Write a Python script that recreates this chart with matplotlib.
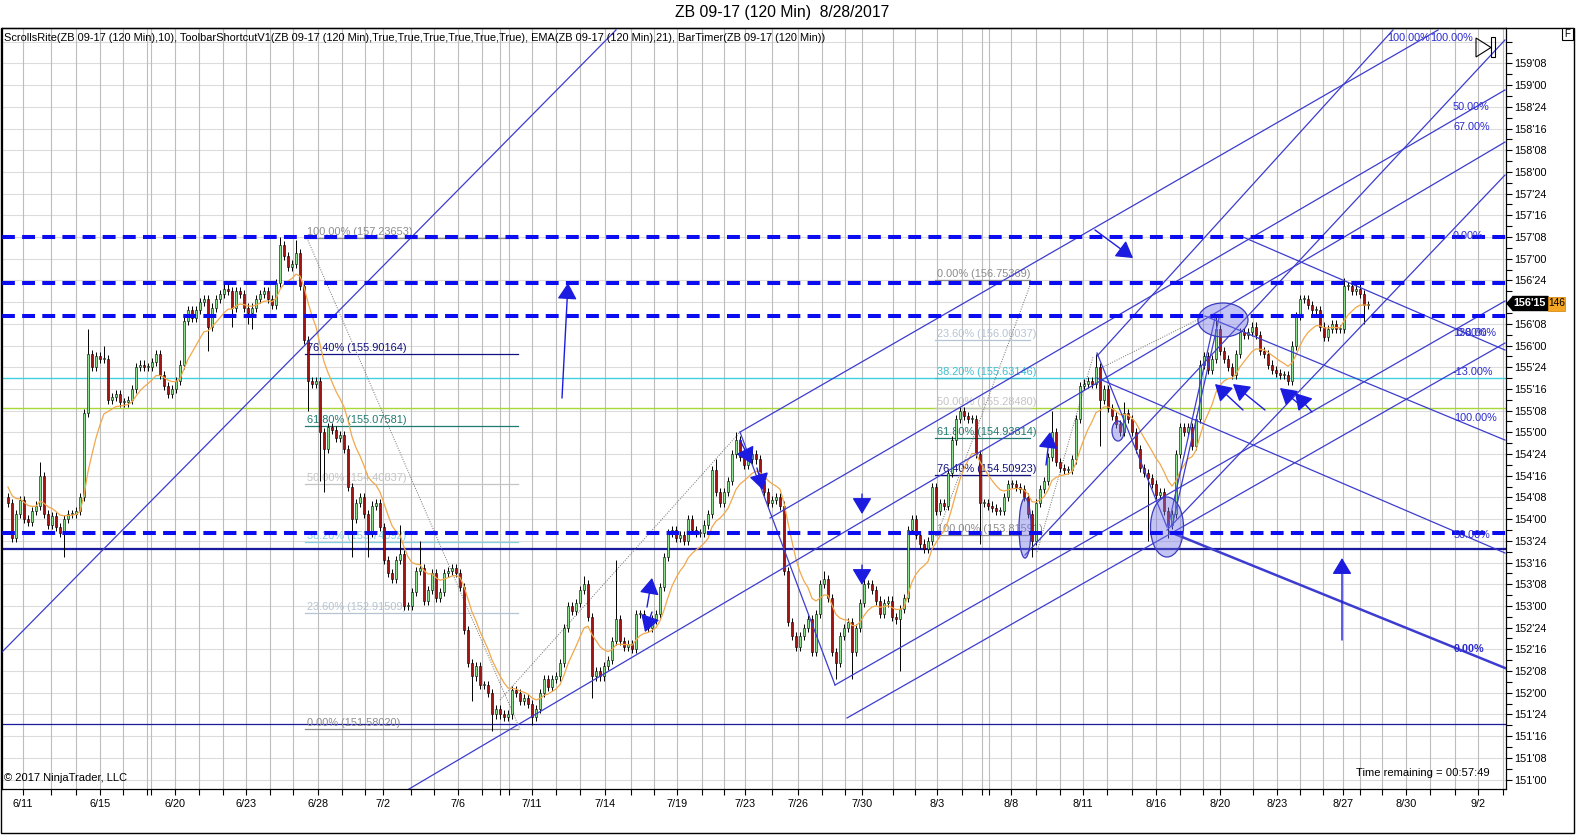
import numpy as np
import matplotlib
matplotlib.use("Agg")
import matplotlib.pyplot as plt
from matplotlib.patches import Ellipse, Rectangle, Polygon
from matplotlib.ticker import FixedLocator, FuncFormatter

plt.rcParams['font.family'] = ['Liberation Sans', 'DejaVu Sans']

# ---------------- texts ----------------
TITLE = "ZB 09-17 (120 Min)  8/28/2017"
INDICATORS = ("ScrollsRite(ZB 09-17 (120 Min),10), ToolbarShortcutV1(ZB 09-17 (120 Min),"
              "True,True,True,True,True,True), EMA(ZB 09-17 (120 Min),21), BarTimer(ZB 09-17 (120 Min))")
COPYRIGHT = "\u00a9 2017 NinjaTrader, LLC"
TIMER = "Time remaining = 00:57:49"
last_price_label = "156'15"
last_volume_label = "146"

# ---------------- price data (closes in 32nds above 150'00) ----------------
close_32 = [
    134, 121, 130, 135, 128, 127, 131, 133, 144, 130, 126, 129, 125, 123, 128, 130, 130, 131, 136, 167,
    189, 184, 188, 187, 187, 172, 173, 174, 171, 171, 172, 176, 184, 185, 184, 184, 186, 189, 181, 177,
    174, 176, 179, 185, 201, 205, 202, 205, 208, 209, 199, 206, 209, 211, 213, 212, 206, 212, 211, 206,
    204, 206, 209, 211, 212, 209, 207, 215, 229, 225, 221, 222, 226, 214, 194, 179, 178, 179, 160, 154,
    162, 161, 158, 159, 154, 140, 128, 134, 136, 130, 123, 133, 134, 125, 113, 108, 106, 113, 115, 96,
    96, 101, 109, 110, 98, 102, 108, 99, 101, 108, 109, 110, 108, 103, 87, 75, 70, 74, 67, 67,
    64, 56, 58, 56, 55, 56, 65, 64, 61, 62, 60, 55, 58, 64, 69, 66, 69, 70, 75, 88,
    96, 94, 97, 102, 104, 92, 70, 72, 70, 74, 76, 83, 91, 83, 81, 82, 80, 93, 93, 90,
    88, 91, 93, 103, 114, 123, 124, 121, 122, 120, 128, 124, 123, 123, 126, 130, 146, 138, 134, 138,
    142, 152, 157, 151, 148, 150, 152, 150, 142, 138, 134, 135, 136, 133, 109, 90, 85, 81, 85, 88,
    91, 79, 93, 104, 106, 99, 79, 75, 85, 88, 90, 79, 88, 97, 104, 104, 102, 98, 93, 97,
    98, 92, 91, 95, 99, 124, 128, 122, 119, 117, 120, 140, 131, 134, 133, 145, 157, 165, 168, 166,
    165, 165, 152, 134, 134, 133, 132, 131, 131, 136, 141, 141, 140, 139, 136, 130, 120, 134, 139, 142,
    151, 160, 149, 147, 146, 146, 150, 165, 177, 178, 179, 178, 184, 172, 176, 169, 166, 163, 160, 167,
    165, 160, 154, 147, 145, 143, 141, 137, 138, 131, 126, 130, 152, 162, 160, 162, 155, 165, 185, 188,
    183, 187, 198, 190, 187, 184, 181, 189, 197, 196, 197, 199, 196, 190, 189, 185, 183, 182, 181, 181,
    179, 192, 203, 209, 209, 207, 205, 205, 199, 195, 198, 200, 198, 198, 214, 214, 212, 213, 211, 207,
    207,
]
first_open_32 = 136
wick_32 = 1.5
high_spikes_32 = {8: 149, 20: 198, 24: 192, 68: 232, 72: 231, 98: 126, 103: 120, 144: 107,
                  152: 113, 177: 150, 182: 160, 204: 109, 214: 107, 261: 168, 272: 189,
                  279: 171, 302: 203, 334: 217}
low_spikes_32 = {14: 114, 50: 190, 56: 199, 60: 200, 61: 198, 75: 168, 78: 142, 79: 138,
                 86: 114, 90: 114, 116: 61, 121: 50, 131: 52, 146: 62, 207: 69, 211: 69,
                 223: 72, 243: 119, 256: 114, 273: 155, 285: 120, 290: 121, 339: 200}
ema_seed_32 = 141
ema_period = 11

# ---------------- axis labels ----------------
date_labels = ["6/11", "6/15", "6/20", "6/23", "6/28", "7/2", "7/6", "7/11", "7/14", "7/19", "7/23",
               "7/26", "7/30", "8/3", "8/8", "8/11", "8/16", "8/20", "8/23", "8/27", "8/30", "9/2"]
date_pos = [3.75, 23, 41.75, 59.5, 77.5, 93.75, 112.5, 131, 149.25, 167.25, 184.25,
            197.5, 213.5, 232.25, 250.75, 268.75, 287, 303, 317.25, 333.75, 349.5, 367.5]
session_lines = [3.75, 10.75, 17, 23, 28.75, 34.75, 35.75, 41.75, 47.75, 53.75, 59.5, 65.5, 71.25,
                 77.5, 83.5, 89.25, 93.75, 100.75, 106.5, 112.5, 118.5, 123, 125.25, 131, 137, 143,
                 149.25, 155.75, 161.5, 167.25, 173.5, 179, 184.25, 191, 197.5, 203.5, 209.25, 213.5,
                 221.25, 226.75, 232.25, 238.5, 243.5, 245.25, 250.75, 257, 263, 268.75, 274.75, 281,
                 287, 293, 298.75, 303, 311.25, 317.25, 323, 328.75, 333.75, 338, 343.5, 349.5,
                 355.5, 361.75, 367.5, 373.75]

# ---------------- drawings ----------------
dashed_levels = [157.25, 156.717, 156.34, 153.836]
navy_levels = [153.672, 153.653, 151.639]
cyan_level = 155.63146
green_level = 155.28480

fib1_pct = ["100.00%", "76.40%", "61.80%", "50.00%", "38.20%", "23.60%", "0.00%"]
fib1_price = [157.23653, 155.90164, 155.07581, 154.40837, 153.74092, 152.91509, 151.58020]
fib1_colors = ["#8c8c8c", "#101080", "#1f7a70", "#c4c4c4", "#86cfe0", "#b4c4d4", "#8c8c8c"]
fib1_span = (74.25, 127.5)

fib2_pct = ["0.00%", "23.60%", "38.20%", "50.00%", "61.80%", "76.40%", "100.00%"]
fib2_price = [156.75369, 156.06037, 155.63146, 155.28480, 154.93814, 154.50923, 153.81591]
fib2_colors = ["#8c8c8c", "#b4c4d4", "#3cbfd0", "#c4c4c4", "#1f7a70", "#101080", "#8c8c8c"]
fib2_span = (231.75, 255.5)

# (bar0, price0, bar1, price1, width)
trend_lines = [
    (-1.5, 152.469, 152.0, 159.635, 0.9),
    (183.0, 155.003, 357.5, 159.635, 0.9),
    (190.5, 154.013, 374.25, 158.944, 0.9),
    (100.25, 150.891, 374.25, 158.344, 0.9),
    (206.75, 152.089, 374.25, 156.513, 0.9),
    (209.75, 151.709, 374.25, 156.029, 0.9),
    (183.0, 155.003, 206.75, 152.089, 0.9),
    (272.25, 155.626, 374.25, 153.610, 0.9),
    (290.5, 153.851, 374.25, 152.285, 1.8),
    (299.25, 156.340, 374.25, 154.911, 0.9),
    (308.75, 157.250, 374.25, 155.948, 0.9),
    (289.75, 153.874, 374.25, 157.964, 0.9),
    (272.25, 155.879, 346.25, 159.635, 0.9),
    (254.25, 153.586, 374.25, 159.520, 0.9),
    (290.0, 153.909, 301.75, 156.317, 0.9),
    (291.0, 153.909, 302.75, 156.317, 0.9),
    (272.25, 155.914, 289.75, 153.909, 0.9),
]
dotted_lines = [
    (74.75, 157.23653, 128.0, 151.58020),
    (123.0, 151.916, 183.0, 155.003),
    (232.25, 153.81591, 256.0, 156.75369),
    (272.25, 155.718, 299.25, 156.340),
    (257.25, 153.620, 271.25, 155.868),
]
# (tail bar, tail price, head bar, head price)
arrows = [
    (138.5, 155.395, 140.0, 156.720),
    (271.75, 157.331, 281.25, 157.008),
    (333.5, 152.607, 333.5, 153.552),
    (159.75, 152.987, 161.0, 153.322),
    (161.0, 152.930, 159.25, 152.699),
    (183.0, 154.911, 186.0, 154.635),
    (187.25, 154.589, 188.75, 154.335),
    (213.5, 154.289, 213.5, 154.059),
    (213.5, 153.471, 213.5, 153.241),
    (259.5, 154.623, 260.5, 155.003),
    (308.75, 155.257, 301.75, 155.556),
    (314.25, 155.257, 306.25, 155.556),
    (323.0, 155.315, 318.0, 155.510),
    (326.0, 155.234, 321.75, 155.453),
]
# (center bar, center price, width bars, height price)
ellipses = [
    (303.75, 156.294, 12.5, 0.392),
    (289.75, 153.909, 8.25, 0.691),
    (254.25, 153.897, 3.0, 0.691),
    (277.5, 155.015, 3.0, 0.230),
]
right_labels = [
    ("100.00%", 344.75, 159.543, False), ("100.00%", 355.5, 159.543, False),
    ("50.00%", 361.25, 158.748, False), ("67.00%", 361.25, 158.517, False),
    ("0.00%", 361.25, 157.262, False), ("138.00%", 361.25, 156.145, False),
    ("0.00%", 362.25, 156.145, False), ("-13.00%", 361.25, 155.700, False),
    ("100.00%", 361.5, 155.165, False), ("50.00%", 361.5, 153.817, False),
    ("0.00%", 361.5, 152.503, True),
]

# ---------------- figure ----------------
W, H = 1576, 835
fig = plt.figure(figsize=(W / 100, H / 100), dpi=100)
fig.patch.set_facecolor("white")
ax = fig.add_axes([2 / W, 1 - 789 / H, 1504 / W, 761 / H])
xlim = (-1.5, 374.5)
ylim = (150.891, 159.658)
ax.set_xlim(*xlim)
ax.set_ylim(*ylim)


def fpx(x, y):
    return (x / W, 1 - y / H)


# grid
yt = np.arange(151.0, 159.3, 0.25)
ax.hlines(np.arange(151.0, 159.6, 0.25), xlim[0], xlim[1], color="#dcdcdc", lw=0.8, zorder=0.4)
ax.vlines(session_lines, ylim[0], ylim[1], color="#bdbdbd", lw=0.8, zorder=0.5)

# full-width horizontal lines
ax.axhline(cyan_level, color="#40d0e0", lw=1.0, zorder=1)
ax.axhline(green_level, color="#a8d838", lw=1.0, zorder=1)
for lv in navy_levels:
    ax.axhline(lv, color="#1a1a9c", lw=0.9, zorder=1.2)

# fibs
for pcts, prices, cols, span in [(fib1_pct, fib1_price, fib1_colors, fib1_span),
                                 (fib2_pct, fib2_price, fib2_colors, fib2_span)]:
    for pct, pr, col in zip(pcts, prices, cols):
        ax.plot([span[0], span[1]], [pr, pr], color=col, lw=0.9, zorder=1.5)
        ax.annotate(f"{pct} ({pr:.5f})", (span[0] + 0.5, pr), xytext=(0, 0.6),
                    textcoords="offset points", color=col, fontsize=7.9,
                    ha="left", va="bottom", zorder=1.5)
for x0, p0, x1, p1 in dotted_lines:
    ax.plot([x0, x1], [p0, p1], color="#707070", lw=0.7, ls=(0, (1, 1.5)), zorder=1.6)

# candles
c = np.array(close_32, dtype=float) / 32 + 150
o = np.r_[first_open_32 / 32 + 150, c[:-1]]
hi = np.maximum(o, c) + wick_32 / 32
lo = np.minimum(o, c) - wick_32 / 32
for k, v in high_spikes_32.items():
    hi[k] = max(hi[k], v / 32 + 150)
for k, v in low_spikes_32.items():
    lo[k] = min(lo[k], v / 32 + 150)
x = np.arange(len(c))
up = c >= o
ax.vlines(x, lo, hi, color="black", lw=0.7, zorder=3)
body = np.maximum(np.abs(c - o), 0.4 / 32)
ax.bar(x, body, bottom=np.minimum(o, c), width=0.62,
       color=np.where(up, "#8fe08f", "#a01414"), edgecolor="black", linewidth=0.4, zorder=3.1)

# EMA
alpha = 2 / (ema_period + 1)
ema = np.empty_like(c)
prev = ema_seed_32 / 32 + 150
for i, v in enumerate(c):
    prev = prev + alpha * (v - prev)
    ema[i] = prev
ax.plot(x, ema, color="#f2a84a", lw=0.9, zorder=3.5)

# trend lines
for x0, p0, x1, p1, lw in trend_lines:
    ax.plot([x0, x1], [p0, p1], color="#3c3cd0", lw=lw, zorder=4)

# ellipses
for cx, cp, w, h in ellipses:
    ax.add_patch(Ellipse((cx, cp), w, h, facecolor=(0.45, 0.45, 0.9, 0.42),
                         edgecolor="#3a3ac0", lw=0.9, zorder=4.5))

# thick dashed levels
for lv in dashed_levels:
    ax.axhline(lv, color="#0c0cf0", lw=2.9, ls=(0, (3.2, 1.8)), zorder=5)

# arrows
for tx, tp, hx, hp in arrows:
    ax.annotate("", xy=(hx, hp), xytext=(tx, tp),
                arrowprops=dict(arrowstyle="-|>,head_length=0.5,head_width=0.3",
                                mutation_scale=20, color="#1c1ce0", lw=1.0,
                                shrinkA=0, shrinkB=0), zorder=6)

# right-side drawing labels
for txt, bx, pr, bold in right_labels:
    ax.text(bx, pr, txt, color="#2a2ad0", fontsize=7.8, ha="left", va="center",
            fontweight="bold" if bold else "normal", zorder=6)

# axes styling
ax.yaxis.tick_right()
ax.yaxis.set_major_locator(FixedLocator(yt))
ax.yaxis.set_minor_locator(FixedLocator(np.arange(151.125, 159.6, 0.25).tolist() + [159.5]))


def price_fmt(p, pos):
    whole = int(np.floor(p + 1e-9))
    frac = int(round((p - whole) * 32))
    return f"{whole}'{frac:02d}"


ax.yaxis.set_major_formatter(FuncFormatter(price_fmt))
ax.tick_params(axis="y", which="both", direction="out", length=4.3, width=0.8,
               pad=1.5, labelsize=7.8, right=True, left=False)
ax.xaxis.set_major_locator(FixedLocator(session_lines))
lab_map = dict(zip(date_pos, date_labels))
ax.xaxis.set_major_formatter(FuncFormatter(
    lambda v, pos: next((l for p, l in lab_map.items() if abs(p - v) < 1e-6), "")))
ax.tick_params(axis="x", direction="out", length=4.3, width=0.8, pad=3, labelsize=7.8)
for s in ax.spines.values():
    s.set_linewidth(0.9)
    s.set_color("black")

# ---------------- figure-level decorations ----------------
fig.text(*fpx(782, 13), TITLE, ha="center", va="center", fontsize=11.3)
fig.text(*fpx(4, 38), INDICATORS, ha="left", va="center", fontsize=7.95)
fig.text(*fpx(4, 778), COPYRIGHT, ha="left", va="center", fontsize=8.0)
fig.text(*fpx(1490, 773), TIMER, ha="right", va="center", fontsize=8.1)

# outer frame
fig.add_artist(Rectangle(fpx(1, 833), 1573 / W, 805 / H, transform=fig.transFigure,
                         fill=False, edgecolor="black", lw=1.0))
# price marker
pts = [fpx(1507, 303.5), fpx(1513, 296.5), fpx(1548, 296.5), fpx(1548, 310.5), fpx(1513, 310.5)]
fig.add_artist(Polygon(pts, closed=True, transform=fig.transFigure, facecolor="black",
                       edgecolor="black", zorder=10))
fig.text(*fpx(1530, 303.5), last_price_label, color="white", fontsize=7.8, ha="center",
         va="center", fontweight="bold", zorder=11)
fig.add_artist(Rectangle(fpx(1548, 310.5), 17 / W, 14 / H, transform=fig.transFigure,
                         facecolor="#f5a623", edgecolor="#d08000", lw=0.5, zorder=10))
fig.text(*fpx(1556.5, 303.5), last_volume_label, color="black", fontsize=7.4, ha="center",
         va="center", zorder=11)
# F box
fig.add_artist(Rectangle(fpx(1562, 40), 11 / W, 12 / H, transform=fig.transFigure,
                         facecolor="white", edgecolor="black", lw=0.8, zorder=10))
fig.text(*fpx(1567.5, 34), "F", fontsize=7, ha="center", va="center", zorder=11)
# play/end icon
fig.add_artist(Polygon([fpx(1476, 38), fpx(1476, 57), fpx(1491, 47.5)], closed=True,
                       transform=fig.transFigure, fill=False, edgecolor="black", lw=0.8, zorder=10))
fig.add_artist(Rectangle(fpx(1491, 57), 4 / W, 20 / H, transform=fig.transFigure,
                         fill=False, edgecolor="black", lw=0.8, zorder=10))

fig.savefig("out.png", dpi=100)
